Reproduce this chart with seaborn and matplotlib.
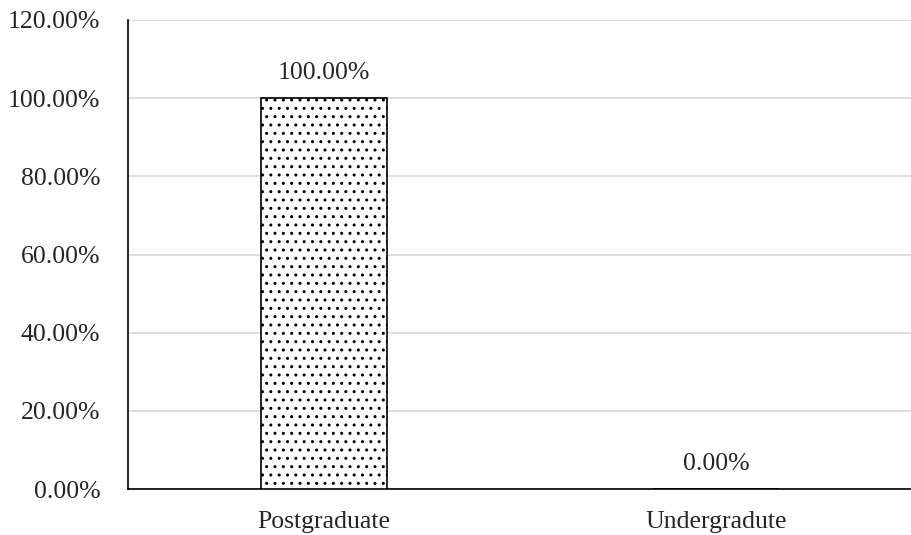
import matplotlib
matplotlib.use("Agg")
import matplotlib.pyplot as plt
import seaborn as sns
import pandas as pd
from matplotlib.ticker import FuncFormatter

categories = ["Postgraduate", "Undergradute"]
shares = [100.0, 0.0]
y_ticks = [0, 20, 40, 60, 80, 100, 120]

sns.set_style("white")
plt.rcParams["font.family"] = ["Liberation Serif", "DejaVu Serif"]
plt.rcParams["hatch.linewidth"] = 1.0
plt.rcParams["hatch.color"] = "black"

df = pd.DataFrame({"level": categories, "share": shares})

fig = plt.figure(figsize=(9.12, 5.35), dpi=100)
ax = fig.add_axes([128 / 912, 1 - 489 / 535, (912 - 128) / 912, (489 - 20) / 535])

sns.barplot(data=df, x="level", y="share", ax=ax, color="white",
            edgecolor="black", linewidth=1.2, width=0.32, zorder=3)
for p in ax.patches:
    p.set_hatch("..")

ax.set_ylim(0, 120)
ax.set_yticks(y_ticks)
ax.yaxis.set_major_formatter(FuncFormatter(lambda v, _: f"{v:.2f}%"))
ax.grid(axis="y", color="#d9d9d9", linewidth=1.2, zorder=0)
ax.set_axisbelow(True)
ax.set_xlabel("")
ax.set_ylabel("")
ax.tick_params(axis="both", length=0, labelsize=18.5)
ax.tick_params(axis="y", pad=20)
ax.tick_params(axis="x", pad=16)

for s in ["top", "right"]:
    ax.spines[s].set_visible(False)
for s in ["left", "bottom"]:
    ax.spines[s].set_color("black")
    ax.spines[s].set_linewidth(1.2)

for i, v in enumerate(shares):
    ax.annotate(f"{v:.2f}%", xy=(i, v), xytext=(0, 10), textcoords="offset points",
                ha="center", va="bottom", fontsize=18.5)

fig.savefig("out.png", dpi=100)
